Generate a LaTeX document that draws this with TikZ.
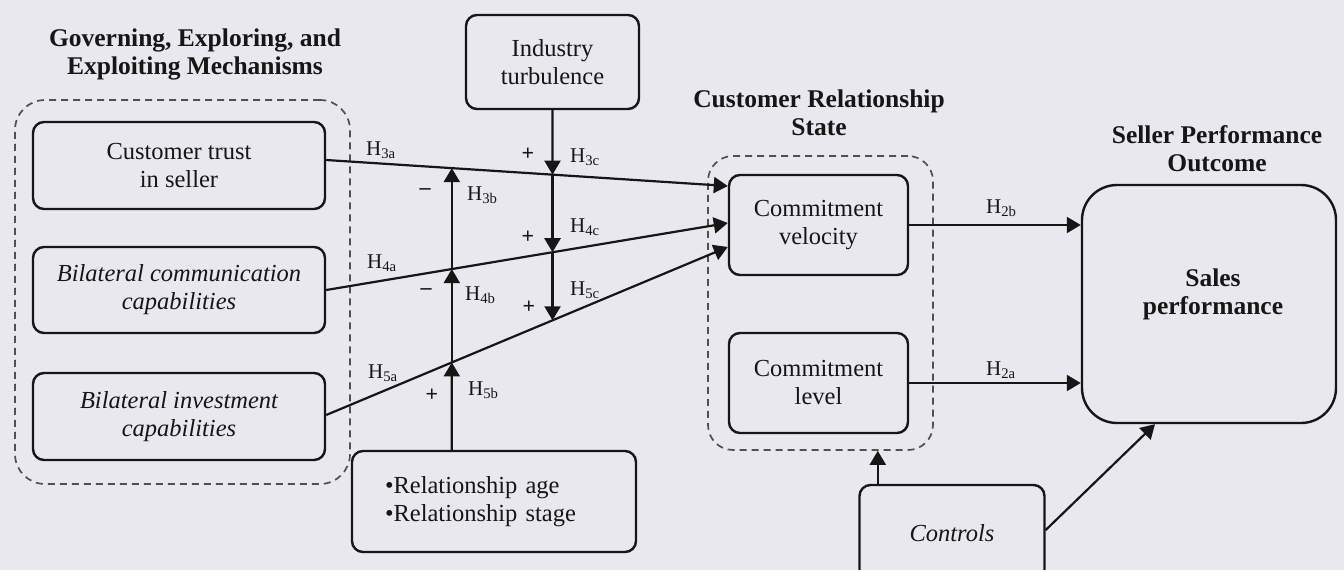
\documentclass[tikz,border=0pt]{standalone}
\usepackage{fontspec}
\setmainfont{Liberation Serif}
\usetikzlibrary{arrows.meta,calc,intersections}
\definecolor{bg}{RGB}{232,232,238}
\definecolor{ink}{RGB}{22,22,22}
\definecolor{dashc}{RGB}{80,80,80}
\begin{document}
\begin{tikzpicture}[x=1pt,y=-1pt,
 box/.style={draw=ink, line width=2.4pt, rounded corners=11pt, align=center, text=ink, font=\fontsize{24.5}{28}\selectfont, inner sep=0pt},
 ital/.style={font=\fontsize{24.5}{28}\selectfont\itshape},
 grp/.style={draw=dashc, line width=1.7pt, dash pattern=on 7pt off 5pt, rounded corners=30pt, inner sep=0pt},
 title/.style={align=center, font=\fontsize{25.5}{28}\selectfont\bfseries, text=ink},
 hyp/.style={font=\fontsize{21}{24}\selectfont, text=ink, anchor=base west, inner sep=0pt},
 sgn/.style={font=\fontsize{22}{24}\selectfont\bfseries, text=ink, inner sep=0pt},
 conn/.style={draw=ink, line width=2.2pt, -{Triangle[length=14pt,width=16pt]}},
]
\clip (0,0) rectangle (1344,570);
\fill[bg] (0,0) rectangle (1344,570);

% groups
\node[grp, minimum width=335pt, minimum height=384pt] (g1) at (182.5,292) {};
\node[grp, minimum width=225pt, minimum height=294pt, rounded corners=25pt] (g2) at (820.5,303) {};

% boxes
\node[box, minimum width=292pt, minimum height=87pt] (b1) at (179,165.5) {Customer trust\\in seller};
\node[box, ital, minimum width=292pt, minimum height=86pt] (b2) at (179,290) {Bilateral communication\\capabilities};
\node[box, ital, minimum width=292pt, minimum height=87pt] (b3) at (179,416.5) {Bilateral investment\\capabilities};
\node[box, minimum width=173pt, minimum height=94pt] (ind) at (552.5,62) {Industry\\turbulence};
\node[box, minimum width=284pt, minimum height=101pt, text width=218pt, inner xsep=33pt, align=left] (rel) at (494,501.5) {•Relationship age\\•Relationship stage};
\node[box, minimum width=179pt, minimum height=100pt] (cv) at (818.5,225) {Commitment\\velocity};
\node[box, minimum width=179pt, minimum height=100pt] (cl) at (818.5,383) {Commitment\\level};
\node[box, minimum width=254pt, minimum height=238pt, rounded corners=35pt] (sales) at (1209,304) {};
\node[title] (salest) at (1213,294) {Sales\\performance};
\node[box, ital, minimum width=185pt, minimum height=96pt] (ctrl) at (952,533) {Controls};

% titles
\node[title] (t1) at (195,54) {Governing, Exploring, and\\Exploiting Mechanisms};
\node[title] (t2) at (819,113) {Customer Relationship\\State};
\node[title] (t3) at (1217,149) {Seller Performance\\Outcome};

% main paths
\coordinate (s3) at ([yshift=5.5pt]b1.east);
\coordinate (e3) at ([yshift=39pt]cv.west);
\coordinate (s4) at (b2.east);
\coordinate (e4) at ([yshift=2pt]cv.west);
\coordinate (s5) at ([yshift=1.5pt]b3.east);
\coordinate (e5) at ([yshift=-22pt]cv.west);
\draw[conn, name path=h3] (s3) -- (e3);
\draw[conn, name path=h4] (s4) -- (e4);
\draw[conn, name path=h5] (s5) -- (e5);

% moderator lines
\coordinate (ru) at ([xshift=101pt]rel.north west);
\path[name path=vd] (ind.south) -- (ind.south |- rel.north);
\path[name path=vu] (ru) -- (ru |- ind.south);
\path[name intersections={of=h3 and vd, by=q3}];
\path[name intersections={of=h4 and vd, by=q4}];
\path[name intersections={of=h5 and vd, by=q5}];
\path[name intersections={of=h3 and vu, by=p3}];
\path[name intersections={of=h4 and vu, by=p4}];
\path[name intersections={of=h5 and vu, by=p5}];
\draw[conn] (ind.south) -- (q3);
\draw[conn] (q3) -- (q4);
\draw[conn] (q4) -- (q5);
\draw[conn] (ru) -- (p5);
\draw[conn] (p5) -- (p4);
\draw[conn] (p4) -- (p3);

% outcome paths
\draw[conn] (cv.east) -- (cv.east -| sales.west);
\draw[conn] (cl.east) -- (cl.east -| sales.west);
\coordinate (cu) at ([xshift=19.5pt]ctrl.north west);
\draw[conn] (cu) -- (cu |- g2.south);
\draw[conn] ([yshift=3pt]ctrl.east) -- ([xshift=-54pt]sales.south);

% hypothesis labels
\node[hyp] (l3a) at (366,155) {H\textsubscript{3a}};
\node[hyp] (l4a) at (367,268) {H\textsubscript{4a}};
\node[hyp] (l5a) at (368,378) {H\textsubscript{5a}};
\node[hyp] (l3b) at (467,200) {H\textsubscript{3b}};
\node[hyp] (l4b) at (465,300) {H\textsubscript{4b}};
\node[hyp] (l5b) at (468,395) {H\textsubscript{5b}};
\node[hyp] (l3c) at (570,162) {H\textsubscript{3c}};
\node[hyp] (l4c) at (570,232) {H\textsubscript{4c}};
\node[hyp] (l5c) at (570,295) {H\textsubscript{5c}};
\node[hyp] (l2b) at (986,213) {H\textsubscript{2b}};
\node[hyp] (l2a) at (986,375) {H\textsubscript{2a}};

% signs
\node[sgn] (m3b) at (425,192) {–};
\node[sgn] (m4b) at (426,292) {–};
\node[sgn] (m5b) at (432,395) {+};
\node[sgn] (m3c) at (528,154) {+};
\node[sgn] (m4c) at (528,237) {+};
\node[sgn] (m5c) at (529,307) {+};
\end{tikzpicture}
\end{document}
